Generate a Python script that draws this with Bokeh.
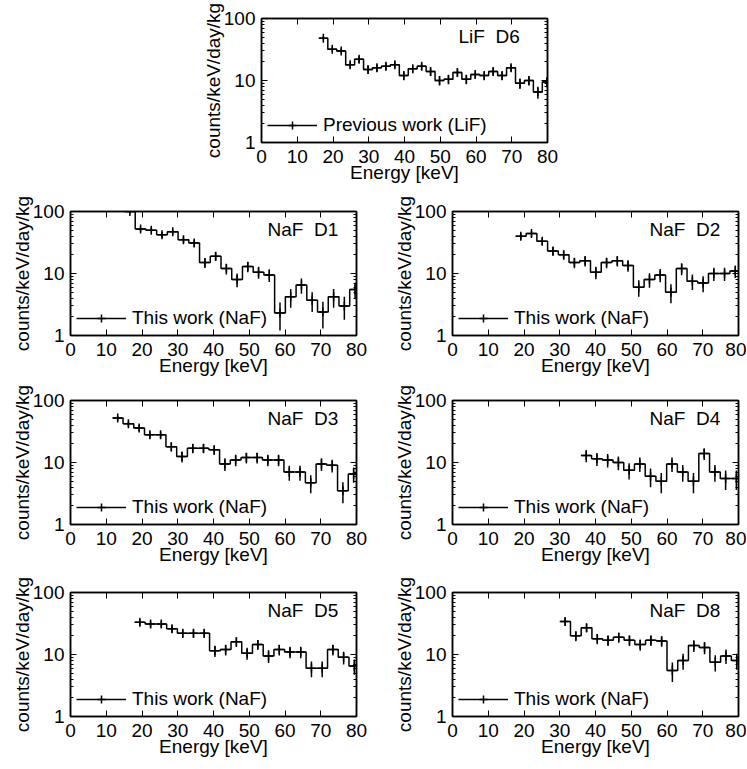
from bokeh.plotting import figure
from bokeh.models import (Range1d, FixedTicker, LinearAxis, LogAxis, Label, Legend,
                          LegendItem, PrintfTickFormatter, Spacer, ColumnDataSource)
from bokeh.layouts import column, row
from bokeh.embed import file_html
from bokeh.resources import INLINE

FONT = "Liberation Sans"
FS = "19px"

# ---------------- data (bin centres in keV, counts/keV/day/kg, errors) ----------------
lif_d6_x = [17.3, 19.8, 22.3, 24.8, 27.3, 29.8, 32.3, 34.8, 37.3, 39.8, 42.3, 44.8, 47.3,
            49.8, 52.3, 54.8, 57.3, 59.8, 62.3, 64.8, 67.3, 69.8, 72.3, 74.8, 77.3, 79.8]
lif_d6_y = [48, 32, 30, 18, 22, 15, 16, 17, 18, 12, 15.5, 17, 14, 10, 10.5, 13.5, 10.5,
            12.5, 12, 14, 12, 16, 9, 10, 6.5, 9.5]
lif_d6_e = [3.8, 3.1, 3.0, 2.3, 2.6, 2.1, 2.2, 2.3, 2.3, 1.9, 2.2, 2.3, 2.1, 1.7, 1.8, 2.0,
            1.8, 1.9, 1.9, 2.1, 1.9, 2.2, 1.7, 1.7, 1.4, 1.7]

naf_d1_x = [16.6, 19.6, 22.6, 25.6, 28.6, 31.6, 34.6, 37.6, 40.6, 43.6, 46.6, 49.6, 52.6,
            55.6, 58.6, 61.6, 64.6, 67.6, 70.6, 73.6, 76.6, 79.6]
naf_d1_y = [100, 52, 50, 42, 47, 35, 31, 15, 19, 12, 8, 13, 10.5, 9.5, 2.3, 4.2, 6.5, 3.7,
            2.4, 4.2, 3.0, 5.5]
naf_d1_e = [7.0, 5.0, 5.0, 4.5, 4.8, 4.1, 3.9, 2.7, 3.1, 2.4, 2.0, 2.5, 2.3, 2.2, 1.1, 1.4,
            1.8, 1.3, 1.1, 1.4, 1.2, 1.6]

naf_d2_x = [19.1, 22.1, 25.1, 28.1, 31.1, 34.1, 37.1, 40.1, 43.1, 46.1, 49.1, 52.1, 55.1,
            58.1, 61.1, 64.1, 67.1, 70.1, 73.1, 76.1, 79.1]
naf_d2_y = [40, 44, 33, 23, 20, 15, 16, 10.5, 15, 16, 13.5, 6, 8, 9.5, 5, 12, 7.5, 7, 10,
            10, 11]
naf_d2_e = [4.7, 5.0, 4.3, 3.6, 3.4, 2.9, 3.0, 2.4, 2.9, 3.0, 2.8, 1.8, 2.1, 2.3, 1.7, 2.6,
            2.1, 2.0, 2.4, 2.4, 2.5]

naf_d3_x = [13.2, 16.2, 19.2, 22.2, 25.2, 28.2, 31.2, 34.2, 37.2, 40.2, 43.2, 46.2, 49.2,
            52.2, 55.2, 58.2, 61.2, 64.2, 67.2, 70.2, 73.2, 76.2, 79.2]
naf_d3_y = [52, 42, 36, 28, 28, 18, 12.5, 17, 17, 16, 9.5, 11, 12, 12, 11, 11, 7, 7, 4.7,
            9.5, 9, 3.5, 6.5]
naf_d3_e = [5.0, 4.5, 4.2, 3.7, 3.7, 3.0, 2.5, 2.9, 2.9, 2.8, 2.2, 2.3, 2.4, 2.4, 2.3, 2.3,
            1.9, 1.9, 1.5, 2.2, 2.1, 1.3, 1.8]

naf_d4_x = [37.4, 40.4, 43.4, 46.4, 49.4, 52.4, 55.4, 58.4, 61.4, 64.4, 67.4, 70.4, 73.4,
            76.4, 79.4]
naf_d4_y = [13, 11.5, 11, 10, 7.5, 9.5, 6, 5, 9.5, 7, 5, 14, 7, 5.5, 5.5]
naf_d4_e = [2.9, 2.7, 2.7, 2.5, 2.2, 2.5, 2.0, 1.8, 2.5, 2.1, 1.8, 3.0, 2.1, 1.9, 1.9]

naf_d5_x = [19.4, 22.4, 25.4, 28.4, 31.4, 34.4, 37.4, 40.4, 43.4, 46.4, 49.4, 52.4, 55.4,
            58.4, 61.4, 64.4, 67.4, 70.4, 73.4, 76.4, 79.4]
naf_d5_y = [33, 31, 31, 26, 22, 22, 22, 11.5, 12, 16, 10.5, 14.5, 9.5, 12, 11, 11, 6, 6,
            12, 9, 6.5]
naf_d5_e = [4.0, 3.9, 3.9, 3.6, 3.3, 3.3, 3.3, 2.4, 2.4, 2.8, 2.3, 2.7, 2.2, 2.4, 2.3, 2.3,
            1.7, 1.7, 2.4, 2.1, 1.8]

naf_d8_x = [31.5, 34.5, 37.5, 40.5, 43.5, 46.5, 49.5, 52.5, 55.5, 58.5, 61.5, 64.5, 67.5,
            70.5, 73.5, 76.5, 79.5]
naf_d8_y = [34, 20, 27, 18, 17, 19, 17, 14.5, 17, 16.5, 5.5, 8, 14, 13, 7.5, 9.5, 8]
naf_d8_e = [4.7, 3.6, 4.2, 3.4, 3.3, 3.5, 3.3, 3.0, 3.3, 3.2, 1.9, 2.3, 3.0, 2.9, 2.2, 2.5,
            2.3]

x_ticks = [0, 10, 20, 30, 40, 50, 60, 70, 80]
y_ticks = [1, 10, 100]
y_minor = [2, 3, 4, 5, 6, 7, 8, 9, 20, 30, 40, 50, 60, 70, 80, 90]

FRAME_W = 286
FRAME_H = 124


def style_axis(ax, labels=True):
    ax.axis_line_color = "black"
    ax.axis_line_width = 1.5
    ax.major_tick_in = 6
    ax.major_tick_out = 0
    ax.minor_tick_in = 3
    ax.minor_tick_out = 0
    ax.major_tick_line_color = "black"
    ax.minor_tick_line_color = "black"
    ax.major_label_text_font = FONT
    ax.major_label_text_color = "black"
    ax.major_label_text_font_size = FS if labels else "1px"
    ax.axis_label_text_font = FONT
    ax.axis_label_text_font_style = "normal"
    ax.axis_label_text_font_size = FS
    ax.axis_label_text_color = "black"


def make_panel(xs, ys, es, bin_w, title, legend_text, L, R, T, B):
    p = figure(width=L + FRAME_W + R, height=T + FRAME_H + B,
               x_range=Range1d(0, 80), y_range=Range1d(1, 100), y_axis_type="log",
               output_backend="svg", toolbar_location=None,
               min_border_left=L, min_border_right=R, min_border_top=T, min_border_bottom=B)
    p.background_fill_color = "white"
    p.border_fill_color = "white"
    p.outline_line_color = "black"
    p.outline_line_width = 1.5
    p.xgrid.grid_line_color = None
    p.ygrid.grid_line_color = None

    p.xaxis.ticker = FixedTicker(ticks=x_ticks)
    p.yaxis.ticker = FixedTicker(ticks=y_ticks, minor_ticks=y_minor)
    p.yaxis.formatter = PrintfTickFormatter(format="%d")
    p.xaxis.axis_label = "Energy [keV]"
    p.yaxis.axis_label = "counts/keV/day/kg"
    for ax in p.xaxis:
        style_axis(ax)
        ax.minor_tick_line_color = None
        ax.major_label_standoff = 7
        ax.axis_label_standoff = -4
    for ax in p.yaxis:
        style_axis(ax)
        ax.major_label_standoff = 6
        ax.axis_label_standoff = -3

    # mirrored inward ticks on top and right
    top = LinearAxis(ticker=FixedTicker(ticks=x_ticks),
                     major_label_overrides={t: "" for t in x_ticks})
    style_axis(top, labels=False)
    top.minor_tick_line_color = None
    top.major_label_standoff = 0
    p.add_layout(top, "above")
    right = LogAxis(ticker=FixedTicker(ticks=y_ticks, minor_ticks=y_minor),
                    major_label_overrides={t: "" for t in y_ticks})
    style_axis(right, labels=False)
    right.major_label_standoff = 0
    p.add_layout(right, "right")

    # histogram steps
    edges = [c - bin_w / 2 for c in xs] + [xs[-1] + bin_w / 2]
    yext = list(ys) + [ys[-1]]
    st = p.step(edges, yext, mode="after", line_color="black", line_width=1.5)
    # error bars and crosses
    src = ColumnDataSource(dict(x=xs, y=ys,
                                lo=[v - e for v, e in zip(ys, es)],
                                hi=[v + e for v, e in zip(ys, es)]))
    p.segment(x0="x", y0="lo", x1="x", y1="hi", source=src,
              line_color="black", line_width=1.5)
    sr = p.scatter("x", "y", source=src, marker="cross", size=9,
                   line_color="black", line_width=1.5)

    leg = Legend(items=[LegendItem(label=legend_text, renderers=[st, sr])],
                 location="bottom_left", border_line_color=None,
                 background_fill_alpha=0, glyph_width=50, glyph_height=20,
                 label_standoff=6, padding=2, margin=6, spacing=0,
                 label_text_font=FONT, label_text_font_size=FS, label_text_color="black",
                 label_height=20)
    p.add_layout(leg)

    lab = Label(x=55.1, y=51, text=title, text_align="left", text_baseline="middle",
                text_font=FONT, text_font_size=FS, text_color="black")
    p.add_layout(lab)
    return p


SP = "\u00a0\u00a0"
p6 = make_panel(lif_d6_x, lif_d6_y, lif_d6_e, 2.5, "LiF" + SP + "D6", "Previous work (LiF)",
                62, 20, 18, 48)
p1 = make_panel(naf_d1_x, naf_d1_y, naf_d1_e, 3, "NaF" + SP + "D1", "This work (NaF)", 70, 34, 21, 47)
p2 = make_panel(naf_d2_x, naf_d2_y, naf_d2_e, 3, "NaF" + SP + "D2", "This work (NaF)", 62, 8, 21, 47)
p3 = make_panel(naf_d3_x, naf_d3_y, naf_d3_e, 3, "NaF" + SP + "D3", "This work (NaF)", 70, 34, 18, 48)
p4 = make_panel(naf_d4_x, naf_d4_y, naf_d4_e, 3, "NaF" + SP + "D4", "This work (NaF)", 62, 8, 18, 48)
p5 = make_panel(naf_d5_x, naf_d5_y, naf_d5_e, 3, "NaF" + SP + "D5", "This work (NaF)", 70, 34, 20, 49)
p8 = make_panel(naf_d8_x, naf_d8_y, naf_d8_e, 3, "NaF" + SP + "D8", "This work (NaF)", 62, 8, 20, 49)

layout = column(
    row(Spacer(width=199, height=190), p6),
    row(p1, p2),
    row(p3, p4),
    row(p5, p8),
)

open("out.html", "w").write(file_html(layout, INLINE))
